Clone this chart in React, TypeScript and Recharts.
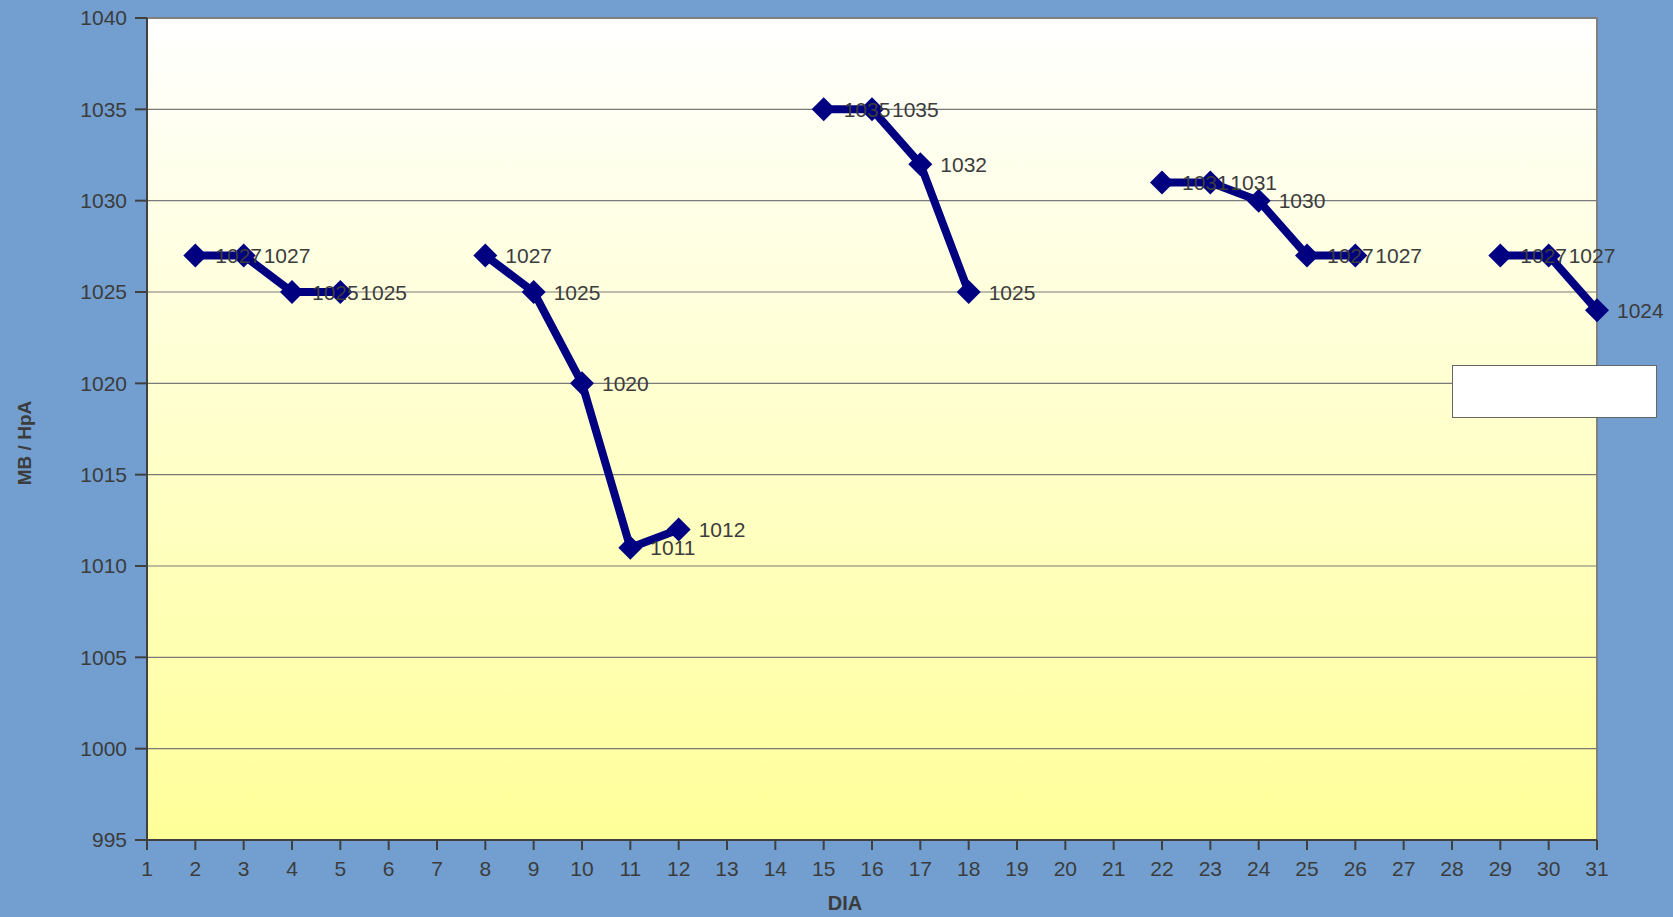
import { CartesianGrid, Label, LabelList, Line, LineChart, ReferenceArea, XAxis, YAxis } from "recharts"

const days = Array.from({ length: 31 }, (_, i) => i + 1)
const pressure: (number | null)[] = [
  null, 1027, 1027, 1025, 1025, null, null, 1027, 1025, 1020,
  1011, 1012, null, null, 1035, 1035, 1032, 1025, null, null,
  null, 1031, 1031, 1030, 1027, 1027, null, null, 1027, 1027,
  1024,
]
const yTicks = [995, 1000, 1005, 1010, 1015, 1020, 1025, 1030, 1035, 1040]

const data = days.map((d, i) => ({ day: d, mb: pressure[i] }))

const textColor = "#3c3c3c"
const font = "'Liberation Sans', Arial, sans-serif"

const Diamond = (props: any) => {
  const { cx, cy, value } = props
  if (value == null || cx == null || cy == null) return null
  const r = 12
  return <polygon points={`${cx},${cy - r} ${cx + r},${cy} ${cx},${cy + r} ${cx - r},${cy}`} fill="#000080" />
}

const ValueLabel = (props: any) => {
  const { x, y, value } = props
  if (value == null) return null
  return (
    <text x={x + 20} y={y} dominantBaseline="central" fontSize={21} fill={textColor} fontFamily={font}>
      {value}
    </text>
  )
}

export default function App() {
  return (
    <div style={{ position: "relative", width: 1673, height: 917, background: "#729fcf", fontFamily: font }}>
      <style>{`body{margin:0}`}</style>
      <LineChart width={1673} height={917} data={data} margin={{ top: 18, right: 76, left: 0, bottom: 0 }}>
        <defs>
          <linearGradient id="plotBg" x1="0" y1="0" x2="0" y2="1">
            <stop offset="0%" stopColor="#ffffff" />
            <stop offset="100%" stopColor="#ffff99" />
          </linearGradient>
        </defs>
        <CartesianGrid vertical={false} fill="url(#plotBg)" fillOpacity={1} stroke="#7a7a7a" strokeWidth={1.2} />
        <ReferenceArea x1={1} x2={31} y1={995} y2={1040} fill="none" stroke="#808080" strokeWidth={2} ifOverflow="visible" />
        <XAxis
          dataKey="day"
          type="number"
          domain={[1, 31]}
          ticks={days}
          interval={0}
          height={77}
          tickSize={10}
          tickMargin={11}
          stroke="#404040"
          strokeWidth={2}
          tick={{ fill: textColor, fontSize: 21, fontFamily: font }}
        >
          <Label
            content={(p: any) => (
              <text
                x={p.viewBox.x + p.viewBox.width / 2 - 27}
                y={903}
                textAnchor="middle"
                dominantBaseline="central"
                fontSize={20}
                fontWeight="bold"
                fill={textColor}
                fontFamily={font}
              >
                DIA
              </text>
            )}
          />
        </XAxis>
        <YAxis
          type="number"
          domain={[995, 1040]}
          ticks={yTicks}
          interval={0}
          width={147}
          tickSize={12}
          tickMargin={8}
          stroke="#404040"
          strokeWidth={2}
          tick={{ fill: textColor, fontSize: 21, fontFamily: font }}
        >
          <Label
            content={(p: any) => (
              <text
                x={24}
                y={p.viewBox.y + p.viewBox.height / 2 + 14}
                transform={`rotate(-90, 24, ${p.viewBox.y + p.viewBox.height / 2 + 14})`}
                textAnchor="middle"
                dominantBaseline="central"
                fontSize={19}
                fontWeight="bold"
                fill={textColor}
                fontFamily={font}
              >
                MB / HpA
              </text>
            )}
          />
        </YAxis>
        <Line
          type="linear"
          dataKey="mb"
          stroke="#000080"
          strokeWidth={8}
          dot={<Diamond />}
          activeDot={false}
          connectNulls={false}
          isAnimationActive={false}
          legendType="none"
        >
          <LabelList dataKey="mb" content={<ValueLabel />} />
        </Line>
      </LineChart>
      {/* empty legend box */}
      <div
        style={{
          position: "absolute",
          left: 1452,
          top: 365,
          width: 203,
          height: 51,
          background: "#ffffff",
          border: "1px solid #666",
        }}
      />
    </div>
  )
}
